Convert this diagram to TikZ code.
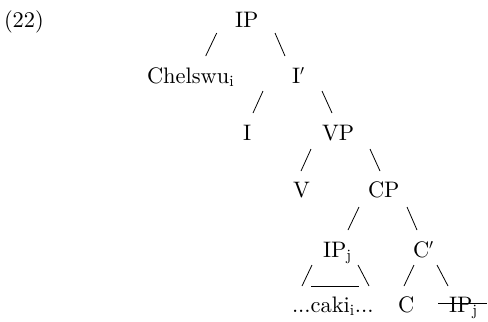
\documentclass[tikz,border=0pt]{standalone}
\usepackage{fontspec}
\newfontfamily\treefont{lmroman10-regular.otf}
\begin{document}
\begin{tikzpicture}[x=1bp,y=-1bp,
  lbl/.style={inner sep=0pt,outer sep=0pt,anchor=base west,
    font=\treefont\fontsize{22.5}{27}\selectfont},
  branch/.style={line width=0.8bp,black}]
\useasboundingbox (0,0) rectangle (488,321);
\node[lbl] (num) at (4,27) {(22)};
\node[lbl] (ip) at (235,27) {IP};
\node[lbl] (chel) at (147,83) {Chelswu\textsubscript{i}};
\node[lbl] (ibar) at (292,83) {I$'$};
\node[lbl] (i) at (243,140) {I};
\node[lbl] (vp) at (322,140) {VP};
\node[lbl] (v) at (293,197) {V};
\node[lbl] (cp) at (368,197) {CP};
\node[lbl] (ipj) at (323,257) {IP\textsubscript{j}};
\node[lbl] (cbar) at (413,257) {C$'$};
\node[lbl] (caki) at (292,312) {...caki\textsubscript{i}...};
\node[lbl] (c) at (398,312) {C};
\node[lbl] (trace) at (449,312) {IP\textsubscript{j}};
% branches
\draw[branch] ([shift={(-18.3,6)}]ip.base west) -- ++(-11,23);
\draw[branch] ([shift={(40,6)}]ip.base west) -- ++(10,23);
\draw[branch] ([shift={(-29,8)}]ibar.base west) -- ++(-10,22);
\draw[branch] ([shift={(30,8)}]ibar.base west) -- ++(10,22);
\draw[branch] ([shift={(-11,9)}]vp.base west) -- ++(-10,22);
\draw[branch] ([shift={(48,9)}]vp.base west) -- ++(10,22);
\draw[branch] ([shift={(-9,10)}]cp.base west) -- ++(-11,23);
\draw[branch] ([shift={(39,10)}]cp.base west) -- ++(10,23);
\draw[branch] ([shift={(-11,8)}]ipj.base west) -- ++(-10,21);
\draw[branch] ([shift={(35,8)}]ipj.base west) -- ++(11,21);
\draw[branch] ([shift={(-12,29)}]ipj.base west) -- ++(48,0);
\draw[branch] ([shift={(1,8)}]cbar.base west) -- ++(-10,21);
\draw[branch] ([shift={(24,8)}]cbar.base west) -- ++(11,21);
% strike-through of the trace
\draw[branch] ([shift={(-11,-9)}]trace.base west) -- ([shift={(9,-9)}]trace.base east);
\end{tikzpicture}
\end{document}
